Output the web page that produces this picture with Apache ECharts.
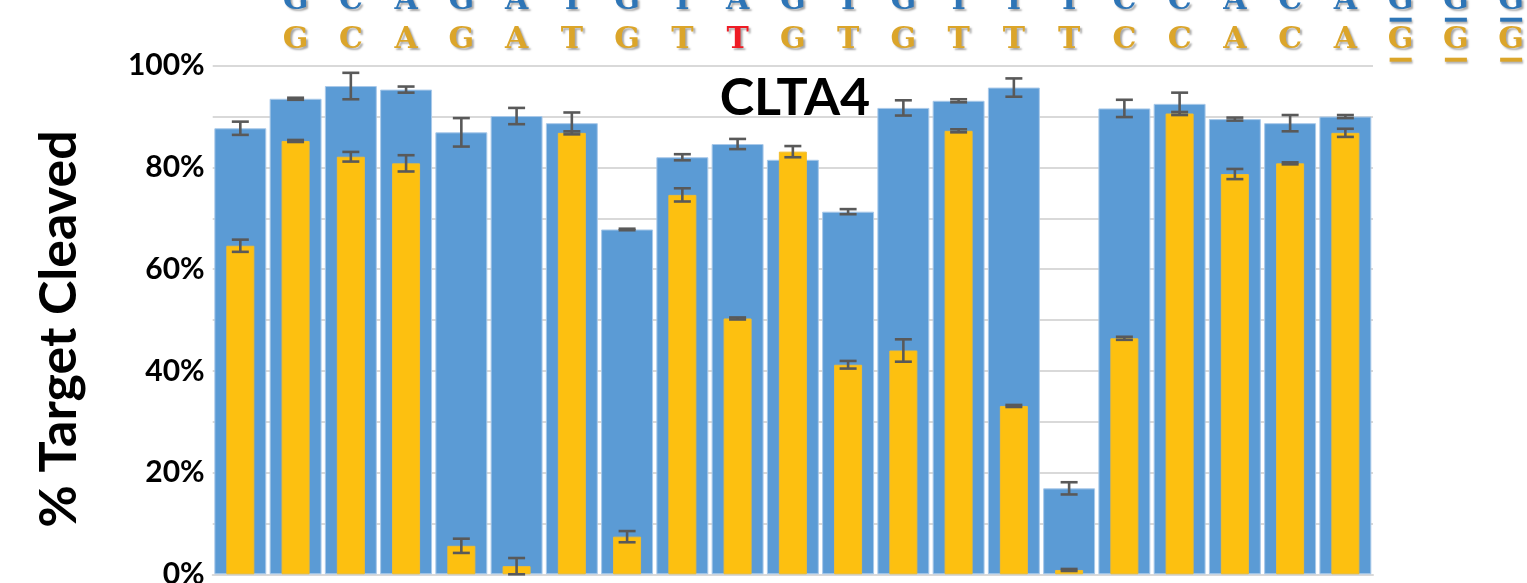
<!DOCTYPE html>
<html>
<head>
<meta charset="utf-8">
<title>CLTA4</title>
<script src="https://cdn.jsdelivr.net/npm/echarts@6/dist/echarts.min.js"></script>
<style>
  html, body { margin: 0; padding: 0; background: #fff; }
  #chart { width: 1527px; height: 583px; }
</style>
</head>
<body>
<div id="chart"></div>
<script>
// one bar per guide: control first, then mismatch at positions 1..20
const categories = ['ctrl', '1', '2', '3', '4', '5', '6', '7', '8', '9', '10',
  '11', '12', '13', '14', '15', '16', '17', '18', '19', '20']

// % target cleaved (blue = wide bars, gold = narrow bars) and error half-widths
const blueValues = [87.7, 93.5, 96.0, 95.3, 86.9, 90.1, 88.7, 67.8, 82.0, 84.6, 81.5,
  71.3, 91.7, 93.1, 95.7, 16.9, 91.6, 92.5, 89.5, 88.7, 90.0]
const blueErrors = [1.3, 0.2, 2.6, 0.6, 2.8, 1.6, 2.1, 0.15, 0.6, 1.0, 0.5,
  0.5, 1.5, 0.3, 1.8, 1.2, 1.7, 2.2, 0.3, 1.6, 0.3]
const goldValues = [64.6, 85.2, 82.1, 80.8, 5.6, 1.6, 86.8, 7.4, 74.6, 50.3, 83.1,
  41.2, 44.0, 87.2, 33.1, 0.85, 46.4, 90.6, 78.7, 80.8, 86.8]
const goldErrors = [1.2, 0.2, 0.95, 1.6, 1.4, 1.6, 0.3, 1.1, 1.3, 0.2, 1.1,
  0.75, 2.2, 0.3, 0.2, 0.2, 0.3, 0.3, 1.0, 0.2, 0.8]

// sequence rows above the plot (first slot sits over the control bar, last 3 = PAM)
const targetSeq = ['', 'G', 'C', 'A', 'G', 'A', 'T', 'G', 'T', 'A', 'G', 'T', 'G',
  'T', 'T', 'T', 'C', 'C', 'A', 'C', 'A', 'G', 'G', 'G']
const guideSeq = ['', 'G', 'C', 'A', 'G', 'A', 'T', 'G', 'T', 'T', 'G', 'T', 'G',
  'T', 'T', 'T', 'C', 'C', 'A', 'C', 'A', 'G', 'G', 'G']
const pamStart = 21

const yTicks = [0, 20, 40, 60, 80, 100]

const BLUE = '#5b9bd5'
const GOLD = '#fdc010'
const TARGET_TXT = '#2e75b6'
const GUIDE_TXT = '#dba52a'
const MISMATCH_TXT = '#ee1c25'

const chart = echarts.init(document.getElementById('chart'))

const catW = (1373 - 212.7) / categories.length
const slots = targetSeq.map((_, i) => 's' + i)

function errorSeries(values, errors, xAxisIndex, z) {
  return {
    type: 'custom',
    xAxisIndex,
    z,
    silent: true,
    data: values.map((v, i) => [i, v, errors[i]]),
    encode: { x: 0, y: 1 },
    renderItem: (params, api) => {
      const i = api.value(0)
      const v = api.value(1)
      const e = api.value(2)
      const hi = api.coord([i, v + e])
      const lo = api.coord([i, v - e])
      const cap = 8.5
      const style = { stroke: '#595959', lineWidth: 2.6 }
      return {
        type: 'group',
        children: [
          { type: 'line', shape: { x1: hi[0], y1: hi[1], x2: lo[0], y2: lo[1] }, style },
          { type: 'line', shape: { x1: hi[0] - cap, y1: hi[1], x2: hi[0] + cap, y2: hi[1] }, style },
          { type: 'line', shape: { x1: lo[0] - cap, y1: lo[1], x2: lo[0] + cap, y2: lo[1] }, style }
        ]
      }
    }
  }
}

const shadow = {
  textShadowColor: 'rgba(0,0,0,0.35)',
  textShadowBlur: 2,
  textShadowOffsetX: 2,
  textShadowOffsetY: 2
}
const letterFont = { fontFamily: 'DejaVu Serif', fontWeight: 'bold', fontSize: 30, lineHeight: 30 }

function letterAxis(seq, color, offset, other) {
  return {
    type: 'category',
    gridIndex: 1,
    position: 'top',
    offset,
    data: slots,
    axisLine: { show: false },
    axisTick: { show: false },
    splitLine: { show: false },
    axisLabel: {
      interval: 0,
      margin: 10,
      hideOverlap: false,
      formatter: (v, i) => {
        const ch = seq[i]
        if (!ch) return ''
        const key = other && other[i] !== ch ? 'm' : 'n'
        return `{${key}|${ch}}`
      },
      rich: {
        n: Object.assign({ color }, letterFont, shadow),
        m: Object.assign({ color: MISMATCH_TXT }, letterFont, shadow)
      }
    }
  }
}

function underlineAxis(color, offset) {
  return {
    type: 'category',
    gridIndex: 1,
    position: 'top',
    offset,
    data: slots,
    axisLine: { show: false },
    axisTick: { show: false },
    splitLine: { show: false },
    axisLabel: {
      interval: 0,
      margin: 4,
      formatter: (v, i) => (i >= pamStart ? '{u| }' : ''),
      rich: {
        u: {
          width: 22, height: 4, lineHeight: 4, fontSize: 4,
          backgroundColor: color,
          shadowColor: 'rgba(0,0,0,0.3)', shadowBlur: 2, shadowOffsetX: 1, shadowOffsetY: 2
        }
      }
    }
  }
}

const option = {
  animation: false,
  backgroundColor: '#ffffff',
  grid: [
    { left: 212.7, right: 154, top: 65.7, bottom: 8.7, outerBoundsMode: 'none', containLabel: false },
    { left: 212.7, width: catW * slots.length, top: 65.7, bottom: 8.7, outerBoundsMode: 'none', containLabel: false }
  ],
  xAxis: [
    {
      type: 'category',
      data: categories,
      axisLine: { lineStyle: { color: '#d9d9d9', width: 2 } },
      axisTick: { show: false },
      axisLabel: { show: false }
    },
    { type: 'category', data: categories, show: false },
    letterAxis(guideSeq, GUIDE_TXT, 0, targetSeq),
    underlineAxis(GUIDE_TXT, 0),
    letterAxis(targetSeq, TARGET_TXT, 39),
    underlineAxis(TARGET_TXT, 40)
  ],
  yAxis: [
    {
      type: 'value',
      min: 0,
      max: 100,
      interval: 10,
      axisLine: { show: false },
      axisTick: { show: false },
      splitLine: { lineStyle: { color: '#d9d9d9', width: 2 } },
      axisLabel: {
        margin: 8,
        color: '#000',
        fontFamily: 'Lato',
        fontWeight: 'bold',
        fontSize: 30,
        formatter: v => (yTicks.includes(v) ? v + '%' : '')
      }
    },
    { type: 'value', gridIndex: 1, show: false }
  ],
  series: [
    {
      type: 'bar',
      xAxisIndex: 0,
      z: 2,
      data: blueValues,
      barCategoryGap: '6%',
      itemStyle: { color: BLUE, borderColor: '#a9c9e9', borderWidth: 1 }
    },
    errorSeries(blueValues, blueErrors, 0, 3),
    {
      type: 'bar',
      xAxisIndex: 1,
      z: 4,
      data: goldValues,
      barWidth: 28,
      itemStyle: { color: GOLD, borderColor: '#f2bc2c', borderWidth: 1 }
    },
    errorSeries(goldValues, goldErrors, 1, 5)
  ],
  graphic: [
    {
      type: 'text',
      x: 795,
      y: 98,
      style: {
        text: 'CLTA4',
        font: 'bold 52px Lato',
        fill: '#000',
        align: 'center',
        verticalAlign: 'middle',
        textAlign: 'center',
        textVerticalAlign: 'middle'
      }
    },
    {
      type: 'text',
      x: 59,
      y: 329,
      rotation: Math.PI / 2,
      style: {
        text: '% Target Cleaved',
        font: 'bold 52px Lato',
        fill: '#000',
        align: 'center',
        verticalAlign: 'middle',
        textAlign: 'center',
        textVerticalAlign: 'middle'
      }
    }
  ]
}

chart.setOption(option)

window.addEventListener('resize', () => chart.resize())
</script>
</body>
</html>
